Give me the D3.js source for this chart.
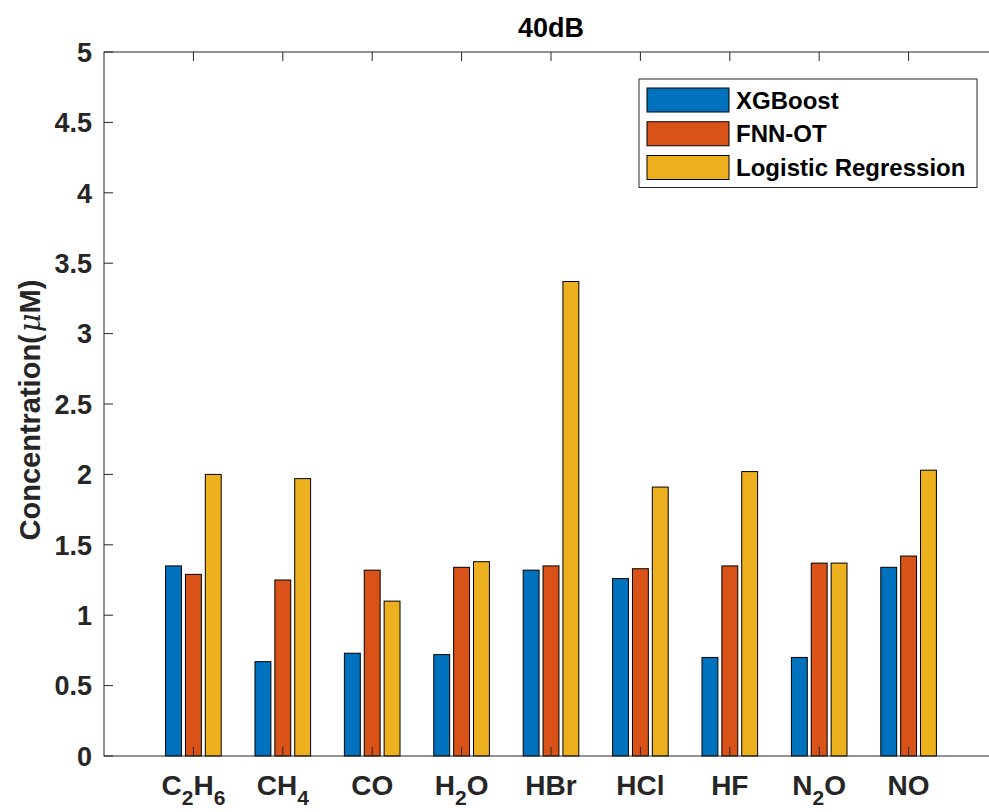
<!DOCTYPE html>
<html>
<head>
<meta charset="utf-8">
<script src="https://cdn.jsdelivr.net/npm/d3@7"></script>
<style>
  html, body { margin: 0; padding: 0; background: #fff; }
  svg { display: block; font-family: "Liberation Sans", Arial, Helvetica, sans-serif; }
</style>
</head>
<body>
<svg id="chart" width="989" height="812"></svg>
<script>
// ---- data ----
const categories = ["C_2H_6", "CH_4", "CO", "H_2O", "HBr", "HCl", "HF", "N_2O", "NO"];
const seriesNames = ["XGBoost", "FNN-OT", "Logistic Regression"];
const xgboost  = [1.35, 0.67, 0.73, 0.72, 1.32, 1.26, 0.70, 0.70, 1.34];
const fnnot    = [1.29, 1.25, 1.32, 1.34, 1.35, 1.33, 1.35, 1.37, 1.42];
const logistic = [2.00, 1.97, 1.10, 1.38, 3.37, 1.91, 2.02, 1.37, 2.03];
const yTicks = [0, 0.5, 1, 1.5, 2, 2.5, 3, 3.5, 4, 4.5, 5];
const titleText = "40dB";
const yLabel = "Concentration(";
const colors = ["#0072BD", "#D95319", "#EDB120"];

const seriesValues = [xgboost, fnnot, logistic];

// ---- layout ----
const pLeft = 104, pRight = 998, pTop = 52, pBottom = 756;
const svg = d3.select("#chart");
const axisColor = "#262626";

const x = d3.scaleLinear().domain([0, categories.length + 1]).range([pLeft, pRight]);
const y = d3.scaleLinear().domain([0, 5]).range([pBottom, pTop]);
const unit = x(1) - x(0);
const groupW = unit * (2 / 3);
const inner = d3.scaleBand().domain(d3.range(seriesNames.length))
  .range([-groupW / 2, groupW / 2]).paddingInner(0.2).paddingOuter(0.1);

// bars
const bars = svg.append("g");
seriesValues.forEach((vals, s) => {
  bars.selectAll(null).data(vals).enter().append("rect")
    .attr("x", (d, i) => x(i + 1) + inner(s))
    .attr("width", inner.bandwidth())
    .attr("y", d => y(d))
    .attr("height", d => y(0) - y(d))
    .attr("fill", colors[s])
    .attr("stroke", "#000")
    .attr("stroke-width", 1);
});

// axes box
const g = svg.append("g").attr("stroke", axisColor).attr("stroke-width", 1).attr("fill", "none");
g.append("rect").attr("x", pLeft).attr("y", pTop).attr("width", pRight - pLeft).attr("height", pBottom - pTop);

const tickLen = 9;
const catIdx = d3.range(1, categories.length + 2);
catIdx.forEach(c => {
  g.append("line").attr("x1", x(c)).attr("x2", x(c)).attr("y1", pBottom).attr("y2", pBottom - tickLen);
  g.append("line").attr("x1", x(c)).attr("x2", x(c)).attr("y1", pTop).attr("y2", pTop + tickLen);
});
yTicks.forEach(t => {
  g.append("line").attr("x1", pLeft).attr("x2", pLeft + tickLen).attr("y1", y(t)).attr("y2", y(t));
  g.append("line").attr("x1", pRight).attr("x2", pRight - tickLen).attr("y1", y(t)).attr("y2", y(t));
});

// y tick labels
svg.append("g").selectAll("text").data(yTicks).enter().append("text")
  .attr("x", pLeft - 12)
  .attr("y", d => y(d))
  .attr("dy", "0.36em")
  .attr("text-anchor", "end")
  .attr("font-size", 27)
  .attr("font-weight", "bold")
  .attr("fill", axisColor)
  .text(d => d3.format("~g")(d));

// x tick labels with subscripts
const xl = svg.append("g");
categories.forEach((c, i) => {
  const t = xl.append("text")
    .attr("x", x(i + 1))
    .attr("y", 795)
    .attr("text-anchor", "middle")
    .attr("font-size", 28)
    .attr("font-weight", "bold")
    .attr("fill", axisColor);
  const parts = c.split(/(_\d)/).filter(p => p.length);
  let shifted = false;
  parts.forEach(p => {
    if (p.startsWith("_")) {
      t.append("tspan").attr("font-size", 21).attr("dy", 10).text(p.slice(1));
      shifted = true;
    } else {
      t.append("tspan").attr("dy", shifted ? -10 : 0).text(p);
      shifted = false;
    }
  });
});

// title
svg.append("text")
  .attr("x", (pLeft + pRight) / 2)
  .attr("y", 37)
  .attr("text-anchor", "middle")
  .attr("font-size", 27)
  .attr("font-weight", "bold")
  .attr("fill", "#000")
  .text(titleText);

// y label
const yl = svg.append("text")
  .attr("transform", `translate(40,${(pTop + pBottom) / 2 + 6}) rotate(-90)`)
  .attr("text-anchor", "middle")
  .attr("font-size", 29)
  .attr("font-weight", "bold")
  .attr("fill", axisColor);
yl.append("tspan").text(yLabel);
yl.append("tspan").attr("dx", 2).attr("font-style", "italic").attr("font-weight", "normal").attr("font-family", "'DejaVu Serif', 'Liberation Serif', serif").text("\u03BC");
yl.append("tspan").text("M)");

// legend
const lg = svg.append("g");
lg.append("rect").attr("x", 639).attr("y", 79).attr("width", 338).attr("height", 108.5)
  .attr("fill", "#fff").attr("stroke", axisColor).attr("stroke-width", 1);
const legY = d3.scalePoint().domain(seriesNames).range([100, 167.5]);
seriesNames.forEach((n, s) => {
  lg.append("rect").attr("x", 647).attr("y", legY(n) - 12).attr("width", 82).attr("height", 24)
    .attr("fill", colors[s]).attr("stroke", "#000").attr("stroke-width", 1);
  lg.append("text").attr("x", 736).attr("y", legY(n)).attr("dy", "0.36em")
    .attr("font-size", 24).attr("font-weight", "bold").attr("fill", "#000").text(n);
});
</script>
</body>
</html>
